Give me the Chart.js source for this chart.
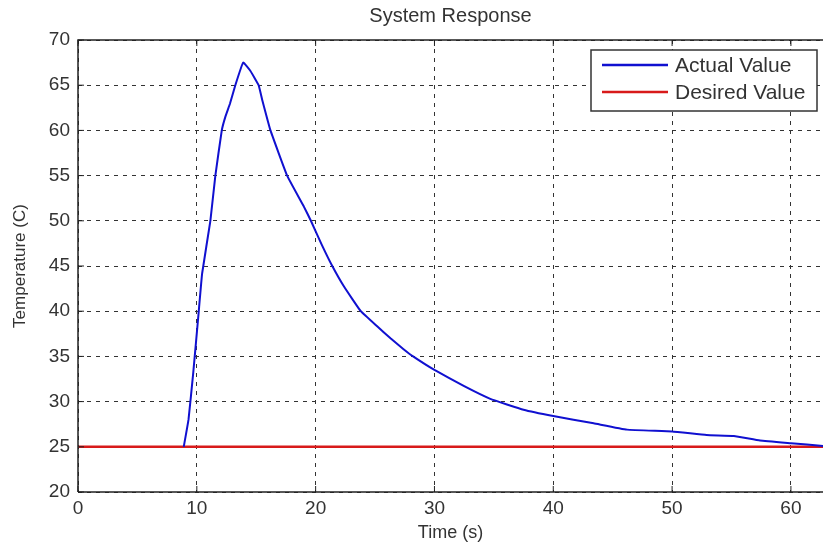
<!DOCTYPE html>
<html>
<head>
    <meta charset="utf-8">
    <script src="https://cdn.jsdelivr.net/npm/chart.js@4/dist/chart.umd.min.js"></script>
    <title>System Response</title>
    <style>
        html, body { margin: 0; padding: 0; background: #fff; }
        #wrap { width: 823px; height: 545px; }
    </style>
</head>
<body>
<div id="wrap">
    <canvas id="myChart" width="823" height="545"></canvas>
</div>

<script>
    // data
    var timeActual = [8.9, 9.3, 9.7, 10.15, 10.45, 11.14, 11.56, 12.1, 12.4, 12.8, 13.24, 13.9, 14.5, 15.2, 15.5, 16.2, 17.6, 19.0, 19.6, 20.5, 21.4, 22.4, 23.8, 25.2, 26.3, 27.4, 28.2, 30.0, 32.5, 34.7, 37.5, 40.0, 43.4, 46.2, 50.0, 52.9, 55.2, 57.4, 60.0, 62.7];
    var tempActual = [25.0, 28.0, 33.2, 39.8, 44.2, 50.0, 55.0, 60.0, 61.5, 63.0, 65.0, 67.5, 66.6, 65.0, 63.4, 60.0, 55.0, 51.6, 50.0, 47.4, 45.0, 42.7, 40.0, 38.3, 37.0, 35.8, 35.0, 33.5, 31.7, 30.3, 29.1, 28.4, 27.6, 26.9, 26.7, 26.3, 26.2, 25.7, 25.4, 25.1];
    var timeDesired = [0, 62.7];
    var tempDesired = [25, 25];
    var xTicks = [0, 10, 20, 30, 40, 50, 60];
    var yTicks = [20, 25, 30, 35, 40, 45, 50, 55, 60, 65, 70];
    var chartTitle = 'System Response';

    function pts(xs, ys) {
        var out = [];
        for (var i = 0; i < xs.length; i++) out.push({x: xs[i], y: ys[i]});
        return out;
    }

    var FONT = "'Liberation Sans', Arial, sans-serif";
    var TXT = '#333';

    // title over the plot, boxed legend, frame and inward tick marks (matlab look)
    var matlabBits = {
        id: 'matlabBits',
        afterDraw: function(chart) {
            var ctx = chart.ctx, a = chart.chartArea;
            var xs = chart.scales.x, ys = chart.scales.y;
            ctx.save();

            ctx.fillStyle = TXT;
            ctx.font = '20px ' + FONT;
            ctx.textAlign = 'center';
            ctx.textBaseline = 'middle';
            ctx.fillText(chartTitle, (a.left + a.right) / 2, 16);

            ctx.strokeStyle = '#222';
            ctx.lineWidth = 1.5;
            ctx.beginPath();
            ctx.moveTo(a.left, a.bottom); ctx.lineTo(a.left, a.top); ctx.lineTo(a.right, a.top);
            ctx.moveTo(a.left, a.bottom); ctx.lineTo(a.right, a.bottom);
            ctx.stroke();
            ctx.lineWidth = 1;
            ctx.beginPath();
            xTicks.forEach(function(t) {
                var px = xs.getPixelForValue(t);
                ctx.moveTo(px, a.bottom); ctx.lineTo(px, a.bottom - 6);
                ctx.moveTo(px, a.top); ctx.lineTo(px, a.top + 6);
            });
            yTicks.forEach(function(t) {
                var py = ys.getPixelForValue(t);
                ctx.moveTo(a.left, py); ctx.lineTo(a.left + 6, py);
            });
            ctx.stroke();

            // legend box
            var bx = 591, by = 50, bw = 226, bh = 61;
            ctx.fillStyle = '#fff';
            ctx.fillRect(bx, by, bw, bh);
            ctx.strokeStyle = '#333';
            ctx.lineWidth = 1.5;
            ctx.strokeRect(bx, by, bw, bh);
            ctx.font = '21px ' + FONT;
            ctx.textAlign = 'left';
            chart.data.datasets.forEach(function(ds, i) {
                var ly = by + 15 + i * 27;
                ctx.strokeStyle = ds.borderColor;
                ctx.lineWidth = 2.5;
                ctx.beginPath();
                ctx.moveTo(bx + 11, ly); ctx.lineTo(bx + 77, ly);
                ctx.stroke();
                ctx.fillStyle = TXT;
                ctx.fillText(ds.label, bx + 84, ly + 1);
            });
            ctx.restore();
        }
    };

    const data = {
        datasets: [{
            label: 'Actual Value',
            data: pts(timeActual, tempActual),
            borderColor: '#1010d0',
            borderWidth: 2,
            pointRadius: 0,
            tension: 0.1
        }, {
            label: 'Desired Value',
            data: pts(timeDesired, tempDesired),
            borderColor: '#d81a1a',
            borderWidth: 2.5,
            pointRadius: 0,
            tension: 0
        }]
    };

    const config = {
        type: 'line',
        data: data,
        plugins: [matlabBits],
        options: {
            responsive: false,
            animation: false,
            layout: { padding: { top: 40 } },
            plugins: {
                legend: { display: false },
                tooltip: { enabled: false },
                title: { display: false }
            },
            scales: {
                x: {
                    type: 'linear',
                    min: 0,
                    max: 62.7,
                    afterFit: function(s) { s.height = 53; },
                    afterBuildTicks: function(s) { s.ticks = xTicks.map(function(v) { return {value: v}; }); },
                    ticks: { color: TXT, font: { family: FONT, size: 19 }, padding: 5, maxRotation: 0 },
                    grid: { color: '#333', lineWidth: 1, drawTicks: false },
                    border: { display: false, dash: [4, 5] },
                    title: {
                        display: true,
                        text: 'Time (s)',
                        color: TXT,
                        font: { family: FONT, size: 18 },
                        padding: { top: 1, bottom: 1 }
                    }
                },
                y: {
                    min: 20,
                    max: 70,
                    afterFit: function(s) { s.width = 78; },
                    afterBuildTicks: function(s) { s.ticks = yTicks.map(function(v) { return {value: v}; }); },
                    ticks: { color: TXT, font: { family: FONT, size: 19 }, padding: 8 },
                    grid: { color: '#333', lineWidth: 1, drawTicks: false },
                    border: { display: false, dash: [4, 5] },
                    title: {
                        display: true,
                        text: 'Temperature (C)',
                        color: TXT,
                        font: { family: FONT, size: 17 },
                        padding: { top: 10, bottom: 0 }
                    }
                }
            }
        }
    };

    var myChart = new Chart(document.getElementById('myChart'), config);
</script>
</body>
</html>
